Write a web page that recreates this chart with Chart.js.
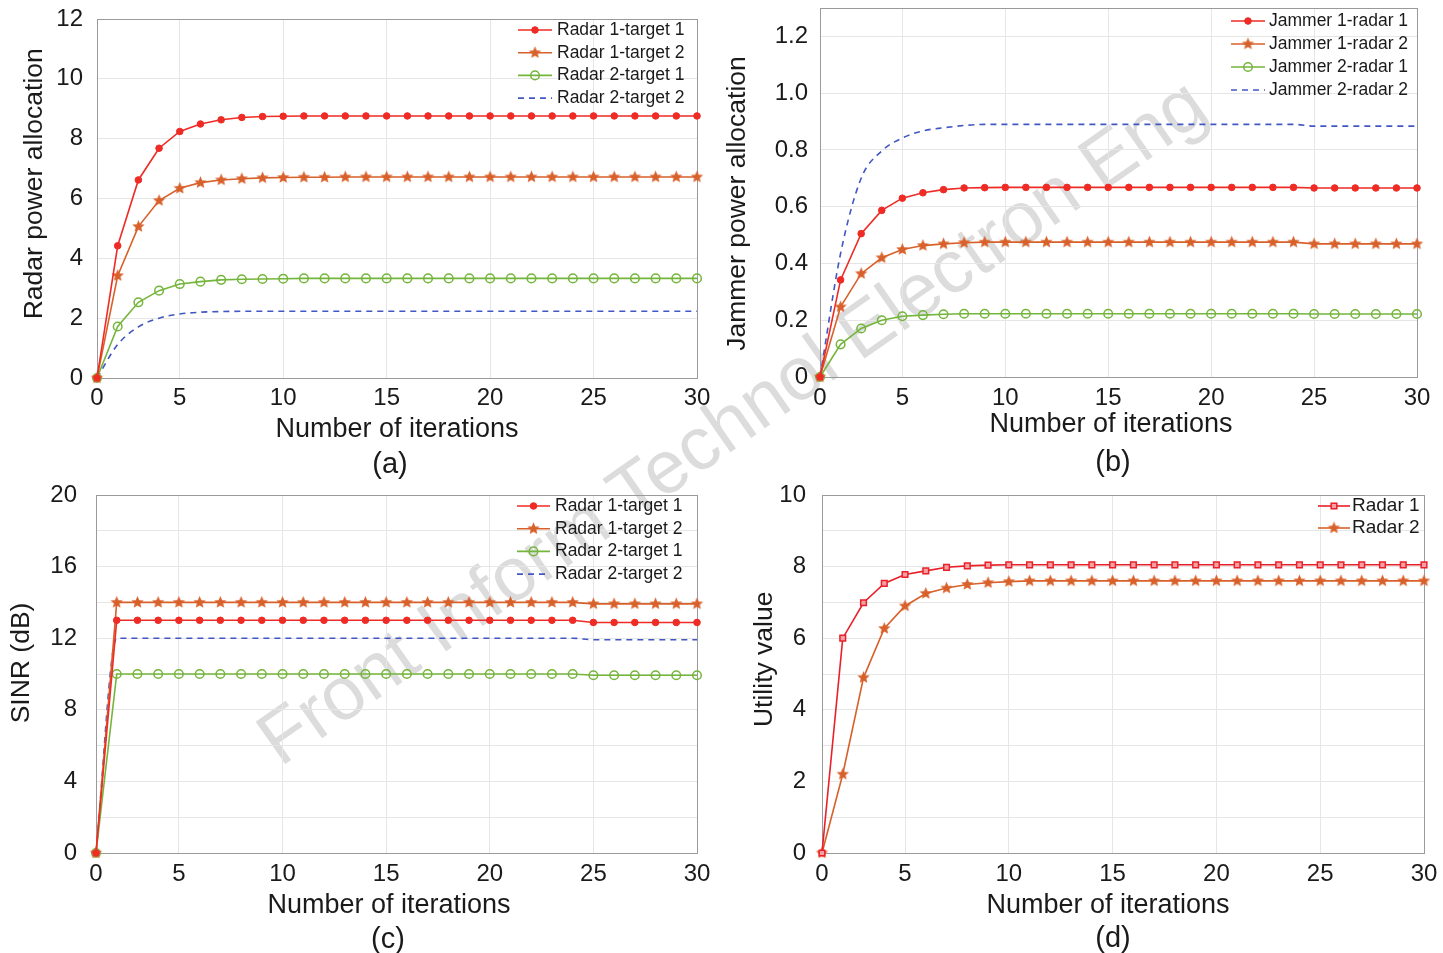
<!DOCTYPE html>
<html>
<head>
<meta charset="utf-8">
<script src="https://cdn.jsdelivr.net/npm/chart.js@4.4.1/dist/chart.umd.min.js"></script>
<style>
  body { margin: 0; background: #fff; width: 1443px; height: 953px; overflow: hidden; position: relative;
         font-family: "Liberation Sans", Arial, sans-serif; }
  canvas { position: absolute; }
  .cap { position: absolute; font-size: 29px; color: #1a1a1a; transform: translate(-50%, -50%); }
  #wm { position: absolute; left: 244px; top: 716px; font-size: 75px; line-height: 1; color: #dcdcdc;
        white-space: nowrap; transform: rotate(-35deg); transform-origin: 0 0; }
</style>
</head>
<body>
<div id="wm">Front Inform Technol Electron Eng</div>
<canvas id="chartA" width="720" height="450" style="left:0;top:0"></canvas>
<canvas id="chartB" width="723" height="450" style="left:720px;top:0"></canvas>
<canvas id="chartC" width="720" height="450" style="left:0;top:475px"></canvas>
<canvas id="chartD" width="723" height="450" style="left:720px;top:475px"></canvas>
<div class="cap" style="left:390px;top:463px">(a)</div>
<div class="cap" style="left:1113px;top:461px">(b)</div>
<div class="cap" style="left:388px;top:938px">(c)</div>
<div class="cap" style="left:1113px;top:937px">(d)</div>
<script>
// ---- Datos ----
const iterations = [1, 2, 3, 4, 5, 6, 7, 8, 9, 10, 11, 12, 13, 14, 15, 16, 17, 18, 19, 20, 21, 22, 23, 24, 25, 26, 27, 28, 29, 30];
const xTickValues = [1, 5, 10, 15, 20, 25, 30];
const xTickLabels = ['0', '5', '10', '15', '20', '25', '30'];

// (a) radar power allocation
const aRadar1Target1 = [0, 4.42, 6.62, 7.68, 8.24, 8.49, 8.63, 8.71, 8.74, 8.75, 8.76, 8.76, 8.76, 8.76, 8.76, 8.76, 8.76, 8.76, 8.76, 8.76, 8.76, 8.76, 8.76, 8.76, 8.76, 8.76, 8.76, 8.76, 8.76, 8.76];
const aRadar1Target2 = [0, 3.42, 5.06, 5.93, 6.34, 6.53, 6.62, 6.66, 6.69, 6.70, 6.71, 6.71, 6.72, 6.72, 6.72, 6.72, 6.72, 6.72, 6.72, 6.72, 6.72, 6.72, 6.72, 6.72, 6.72, 6.72, 6.72, 6.72, 6.72, 6.72];
const aRadar2Target1 = [0, 1.72, 2.53, 2.92, 3.14, 3.22, 3.28, 3.30, 3.31, 3.32, 3.33, 3.33, 3.33, 3.33, 3.33, 3.33, 3.33, 3.33, 3.33, 3.33, 3.33, 3.33, 3.33, 3.33, 3.33, 3.33, 3.33, 3.33, 3.33, 3.33];
const aRadar2Target2 = [0, 1.12, 1.71, 2.00, 2.14, 2.20, 2.22, 2.23, 2.23, 2.23, 2.23, 2.23, 2.23, 2.23, 2.23, 2.23, 2.23, 2.23, 2.23, 2.23, 2.23, 2.23, 2.23, 2.23, 2.23, 2.23, 2.23, 2.23, 2.23, 2.23];
const aYTicks = [0, 2, 4, 6, 8, 10, 12];
const aYLabels = ['0', '2', '4', '6', '8', '10', '12'];

// (b) jammer power allocation
const bJammer1Radar1 = [0, 0.342, 0.505, 0.587, 0.630, 0.649, 0.660, 0.666, 0.667, 0.668, 0.668, 0.668, 0.668, 0.668, 0.668, 0.668, 0.668, 0.668, 0.668, 0.668, 0.668, 0.668, 0.668, 0.668, 0.666, 0.666, 0.666, 0.666, 0.666, 0.666];
const bJammer1Radar2 = [0, 0.247, 0.364, 0.420, 0.449, 0.463, 0.469, 0.473, 0.475, 0.475, 0.475, 0.475, 0.475, 0.475, 0.475, 0.475, 0.475, 0.475, 0.475, 0.475, 0.475, 0.475, 0.475, 0.475, 0.469, 0.469, 0.469, 0.469, 0.469, 0.469];
const bJammer2Radar1 = [0, 0.115, 0.171, 0.200, 0.214, 0.218, 0.221, 0.223, 0.223, 0.223, 0.223, 0.223, 0.223, 0.223, 0.223, 0.223, 0.223, 0.223, 0.223, 0.223, 0.223, 0.223, 0.223, 0.223, 0.222, 0.222, 0.222, 0.222, 0.222, 0.222];
const bJammer2Radar2 = [0, 0.435, 0.700, 0.796, 0.842, 0.867, 0.878, 0.886, 0.890, 0.890, 0.890, 0.890, 0.890, 0.890, 0.890, 0.890, 0.890, 0.890, 0.890, 0.890, 0.890, 0.890, 0.890, 0.890, 0.884, 0.884, 0.884, 0.884, 0.884, 0.884];
const bYTicks = [0, 0.2, 0.4, 0.6, 0.8, 1.0, 1.2];
const bYLabels = ['0', '0.2', '0.4', '0.6', '0.8', '1.0', '1.2'];

// (c) SINR
const cRadar1Target1 = [0, 13, 13, 13, 13, 13, 13, 13, 13, 13, 13, 13, 13, 13, 13, 13, 13, 13, 13, 13, 13, 13, 13, 13, 12.88, 12.88, 12.88, 12.88, 12.88, 12.88];
const cRadar1Target2 = [0, 14, 14, 14, 14, 14, 14, 14, 14, 14, 14, 14, 14, 14, 14, 14, 14, 14, 14, 14, 14, 14, 14, 14, 13.92, 13.92, 13.92, 13.92, 13.92, 13.92];
const cRadar2Target1 = [0, 10, 10, 10, 10, 10, 10, 10, 10, 10, 10, 10, 10, 10, 10, 10, 10, 10, 10, 10, 10, 10, 10, 10, 9.93, 9.93, 9.93, 9.93, 9.93, 9.93];
const cRadar2Target2 = [0, 12, 12, 12, 12, 12, 12, 12, 12, 12, 12, 12, 12, 12, 12, 12, 12, 12, 12, 12, 12, 12, 12, 12, 11.91, 11.91, 11.91, 11.91, 11.91, 11.91];
const cYTicks = [0, 2, 4, 6, 8, 10, 12, 14, 16, 18, 20];
const cYLabels = ['0', '', '4', '', '8', '', '12', '', '16', '', '20'];

// (d) utility
const dRadar1 = [0, 6.00, 6.99, 7.53, 7.78, 7.88, 7.98, 8.02, 8.04, 8.05, 8.05, 8.05, 8.05, 8.05, 8.05, 8.05, 8.05, 8.05, 8.05, 8.05, 8.05, 8.05, 8.05, 8.05, 8.05, 8.05, 8.05, 8.05, 8.05, 8.05];
const dRadar2 = [0, 2.20, 4.90, 6.27, 6.90, 7.25, 7.40, 7.50, 7.55, 7.58, 7.60, 7.60, 7.60, 7.60, 7.60, 7.60, 7.60, 7.60, 7.60, 7.60, 7.60, 7.60, 7.60, 7.60, 7.60, 7.60, 7.60, 7.60, 7.60, 7.60];
const dYTicks = [0, 1, 2, 3, 4, 5, 6, 7, 8, 9, 10];
const dYLabels = ['0', '', '2', '', '4', '', '6', '', '8', '', '10'];

// ---- Estilos ----
const FONT = '"Liberation Sans", Arial, sans-serif';
const RED = '#ee2b25';
const ORANGE = '#d8602a';
const GREEN = '#74b53c';
const BLUE = '#4157c4';
const GRID = '#e6e6e6';

Chart.defaults.font.family = FONT;
Chart.defaults.color = '#1a1a1a';

function makeStar(color, r) {
  const c = document.createElement('canvas');
  c.width = c.height = r * 2 + 2;
  const ctx = c.getContext('2d');
  ctx.beginPath();
  for (let i = 0; i < 10; i++) {
    const rad = i % 2 ? r * 0.45 : r;
    const a = -Math.PI / 2 + i * Math.PI / 5;
    ctx.lineTo(c.width / 2 + rad * Math.cos(a), c.height / 2 + rad * Math.sin(a));
  }
  ctx.closePath();
  ctx.fillStyle = color;
  ctx.fill();
  return c;
}
const star = makeStar(ORANGE, 6.5);

function redDots(label, data) {
  return { label, data, borderColor: RED, borderWidth: 1.6, pointStyle: 'circle', pointRadius: 3.3,
    pointBackgroundColor: RED, pointBorderColor: RED, pointBorderWidth: 1 };
}
function orangeStars(label, data) {
  return { label, data, borderColor: ORANGE, borderWidth: 1.6, pointStyle: star, pointRadius: 6,
    pointBackgroundColor: ORANGE, pointBorderColor: ORANGE, pointBorderWidth: 0 };
}
function greenCircles(label, data) {
  return { label, data, borderColor: GREEN, borderWidth: 1.6, pointStyle: 'circle', pointRadius: 4.3,
    pointBackgroundColor: 'rgba(255,255,255,0)', pointBorderColor: GREEN, pointBorderWidth: 1.5 };
}
function blueDashed(label, data) {
  return { label, data, borderColor: BLUE, borderWidth: 1.6, borderDash: [6, 5], pointRadius: 0,
    cubicInterpolationMode: 'monotone' };
}

// ---- Plugins ----
const framePlugin = {
  id: 'frame',
  beforeDatasetsDraw(chart) {
    const { ctx, chartArea: a } = chart;
    ctx.save();
    ctx.strokeStyle = '#9a9a9a';
    ctx.lineWidth = 1;
    ctx.strokeRect(Math.round(a.left) + 0.5, Math.round(a.top) + 0.5,
      Math.round(a.right - a.left), Math.round(a.bottom - a.top));
    ctx.restore();
  }
};

const legendPlugin = {
  id: 'boxLegend',
  afterDraw(chart, args, opts) {
    const { ctx, chartArea } = chart;
    ctx.save();
    ctx.font = opts.fontSize + 'px ' + FONT;
    ctx.textBaseline = 'middle';
    chart.data.datasets.forEach((ds, i) => {
      const y = chartArea.top + opts.top + i * opts.rowH;
      const x0 = chartArea.right - opts.lineStart;
      const x1 = x0 + opts.lineLen;
      ctx.strokeStyle = ds.borderColor;
      ctx.lineWidth = ds.borderWidth;
      ctx.setLineDash(ds.borderDash || []);
      ctx.beginPath();
      ctx.moveTo(x0, y);
      ctx.lineTo(x1, y);
      ctx.stroke();
      ctx.setLineDash([]);
      if (ds.pointRadius > 0 && Chart.helpers && Chart.helpers.drawPoint) {
        ctx.fillStyle = ds.pointBackgroundColor;
        ctx.strokeStyle = ds.pointBorderColor;
        ctx.lineWidth = ds.pointBorderWidth;
        Chart.helpers.drawPoint(ctx, { pointStyle: ds.pointStyle, radius: ds.pointRadius,
          borderWidth: ds.pointBorderWidth, rotation: 0 }, (x0 + x1) / 2, y);
      }
      ctx.fillStyle = '#1a1a1a';
      ctx.fillText(ds.label, chartArea.right - opts.textStart, y);
    });
    ctx.restore();
  }
};

// ---- Construcción de gráficos ----
// Los espacios en los títulos solo desplazan el texto respecto al centro del área.
function buildChart(id, cfg) {
  return new Chart(document.getElementById(id), {
    type: 'line',
    data: { labels: iterations, datasets: cfg.datasets },
    options: {
      responsive: false,
      animation: false,
      clip: false,
      layout: { padding: { top: cfg.padTop, right: cfg.padRight, left: 0, bottom: 0 } },
      plugins: { legend: { display: false }, tooltip: { enabled: false }, boxLegend: cfg.legend },
      scales: {
        x: {
          type: 'linear', min: 1, max: 30,
          afterBuildTicks: s => { s.ticks = xTickValues.map(v => ({ value: v })); },
          afterFit: s => { s.height = cfg.xHeight; s.paddingLeft = 0; s.paddingRight = 0; },
          ticks: { callback: (v, i) => xTickLabels[i], padding: cfg.xTickPad, font: { size: 24 },
            maxRotation: 0, autoSkip: false, color: '#1a1a1a' },
          grid: { color: GRID, drawTicks: false },
          border: { display: false },
          title: { display: true, text: 'Number of iterations' + cfg.xTitleShift, font: { size: 27 },
            color: '#1a1a1a', padding: { top: 0, bottom: cfg.xTitlePad } }
        },
        y: {
          type: 'linear', min: cfg.yMin, max: cfg.yMax,
          afterBuildTicks: s => { s.ticks = cfg.yTicks.map(v => ({ value: v })); },
          afterFit: s => { s.width = cfg.yWidth; s.paddingTop = 0; s.paddingBottom = 0; },
          ticks: { callback: (v, i) => cfg.yLabels[i], padding: cfg.yTickPad, font: { size: 24 },
            autoSkip: false, color: '#1a1a1a' },
          grid: { color: GRID, drawTicks: false },
          border: { display: false },
          title: { display: true, text: cfg.yTitle, font: { size: 26.5 }, color: '#1a1a1a',
            padding: { top: cfg.yTitlePad, bottom: 0 } }
        }
      }
    },
    plugins: [framePlugin, legendPlugin]
  });
}

buildChart('chartA', {
  datasets: [
    redDots('Radar 1-target 1', aRadar1Target1),
    orangeStars('Radar 1-target 2', aRadar1Target2),
    greenCircles('Radar 2-target 1', aRadar2Target1),
    blueDashed('Radar 2-target 2', aRadar2Target2)
  ],
  padTop: 19, padRight: 23, xHeight: 72, yWidth: 97,
  xTickPad: 6, xTitlePad: 4, yTickPad: 14, yTitlePad: 19, xTitleShift: '',
  yMin: 0, yMax: 12, yTicks: aYTicks, yLabels: aYLabels, yTitle: '    Radar power allocation',
  legend: { top: 11, rowH: 22.7, lineStart: 179, lineLen: 34, textStart: 140, fontSize: 17.5 }
});

buildChart('chartB', {
  datasets: [
    redDots('Jammer 1-radar 1', bJammer1Radar1),
    orangeStars('Jammer 1-radar 2', bJammer1Radar2),
    greenCircles('Jammer 2-radar 1', bJammer2Radar1),
    blueDashed('Jammer 2-radar 2', bJammer2Radar2)
  ],
  padTop: 8, padRight: 26, xHeight: 73, yWidth: 100,
  xTickPad: 7, xTitlePad: 9, yTickPad: 12, yTitlePad: 2, xTitleShift: '  ',
  yMin: 0, yMax: 1.3, yTicks: bYTicks, yLabels: bYLabels, yTitle: 'Jammer power allocation   ',
  legend: { top: 13, rowH: 23, lineStart: 186, lineLen: 34, textStart: 148, fontSize: 17.5 }
});

buildChart('chartC', {
  datasets: [
    redDots('Radar 1-target 1', cRadar1Target1),
    orangeStars('Radar 1-target 2', cRadar1Target2),
    greenCircles('Radar 2-target 1', cRadar2Target1),
    blueDashed('Radar 2-target 2', cRadar2Target2)
  ],
  padTop: 20, padRight: 23, xHeight: 72, yWidth: 96,
  xTickPad: 7, xTitlePad: 3, yTickPad: 19, yTitlePad: 6, xTitleShift: '  ',
  yMin: 0, yMax: 20, yTicks: cYTicks, yLabels: cYLabels, yTitle: '   SINR (dB)',
  legend: { top: 11, rowH: 22.7, lineStart: 180, lineLen: 33, textStart: 142, fontSize: 17.5 }
});

buildChart('chartD', {
  datasets: [
    { label: 'Radar 1', data: dRadar1, borderColor: '#e8202a', borderWidth: 1.6, pointStyle: 'rect',
      pointRadius: 4, pointBackgroundColor: '#f6a0a3', pointBorderColor: '#e8202a', pointBorderWidth: 1.5 },
    orangeStars('Radar 2', dRadar2)
  ],
  padTop: 20, padRight: 19, xHeight: 72, yWidth: 102,
  xTickPad: 7, xTitlePad: 3, yTickPad: 16, yTitlePad: 29, xTitleShift: '    ',
  yMin: 0, yMax: 10, yTicks: dYTicks, yLabels: dYLabels, yTitle: '    Utility value',
  legend: { top: 11, rowH: 22, lineStart: 106, lineLen: 32, textStart: 72, fontSize: 19 }
});
</script>
</body>
</html>
